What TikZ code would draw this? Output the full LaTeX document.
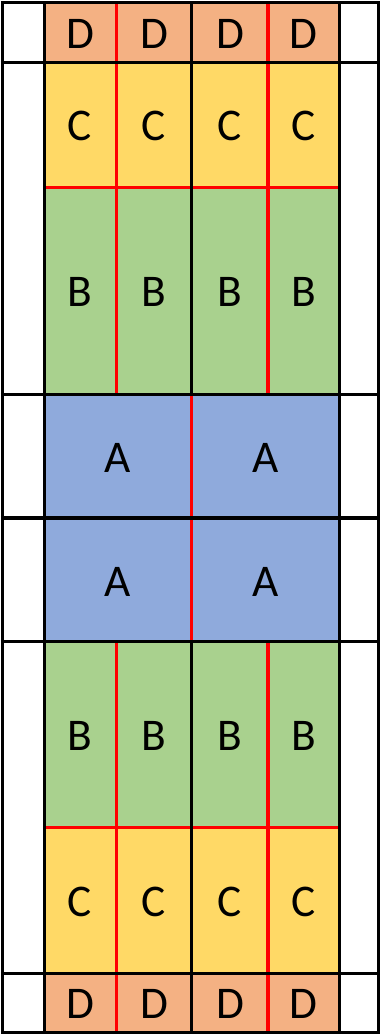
\documentclass[tikz,border=0pt]{standalone}
\usepackage{fontspec}
\setmainfont{Carlito}
\definecolor{cD}{HTML}{F4B183}
\definecolor{cC}{HTML}{FFD966}
\definecolor{cB}{HTML}{A9D18E}
\definecolor{cA}{HTML}{8FAADC}
\definecolor{cR}{HTML}{FF0000}
\tikzset{
  blk/.style={draw=black,line width=2.8pt},
  redl/.style={draw=cR,line width=2.8pt},
  lbl/.style={font=\fontsize{34}{34}\selectfont,inner sep=0pt,anchor=center}
}
\begin{document}
\begin{tikzpicture}[x=0.75pt,y=-0.75pt]
\useasboundingbox (0,0) rectangle (381,1034);
\fill[white] (0,0) rectangle (381,1034);
% fills
\fill[cD] (44,3) rectangle (339,63);
\fill[cC] (44,63) rectangle (339,187.5);
\fill[cB] (44,187.5) rectangle (339,394.5);
\fill[cA] (44,394.5) rectangle (339,642);
\fill[cB] (44,642) rectangle (339,827.5);
\fill[cC] (44,827.5) rectangle (339,973.5);
\fill[cD] (44,973.5) rectangle (339,1032.5);
% red lines
\foreach \x in {116.5,268} {
  \draw[redl] (\x,3) -- (\x,394.5);
  \draw[redl] (\x,642) -- (\x,1032.5);
}
\draw[redl] (191.5,394.5) -- (191.5,642);
\draw[redl] (44,187.5) -- (339,187.5);
\draw[redl] (44,827.5) -- (339,827.5);
% black lines
\foreach \x in {2.5,44.5,339.5,378.5} {
  \draw[blk] (\x,2.5) -- (\x,1032.5);
}
\draw[blk] (191.5,2.5) -- (191.5,394.5);
\draw[blk] (191.5,642) -- (191.5,1032.5);
\foreach \y in {2.5,62.5,394.5,518,641.5,973.5,1032.5} {
  \draw[blk] (0.9,\y) -- (380.1,\y);
}
% labels
\foreach \x [count=\i] in {80,154,230,303.5} {
  \node[lbl] (d\i) at (\x,34) {D};
  \node[lbl] (c\i) at (\x,126) {C};
  \node[lbl] (b\i) at (\x,292) {B};
  \node[lbl] (bb\i) at (\x,736) {B};
  \node[lbl] (cc\i) at (\x,902) {C};
  \node[lbl] (dd\i) at (\x,1004) {D};
}
\node[lbl] (a1) at (118,458) {A};
\node[lbl] (a2) at (265.5,458) {A};
\node[lbl] (a3) at (118,582) {A};
\node[lbl] (a4) at (265.5,582) {A};
\end{tikzpicture}
\end{document}
